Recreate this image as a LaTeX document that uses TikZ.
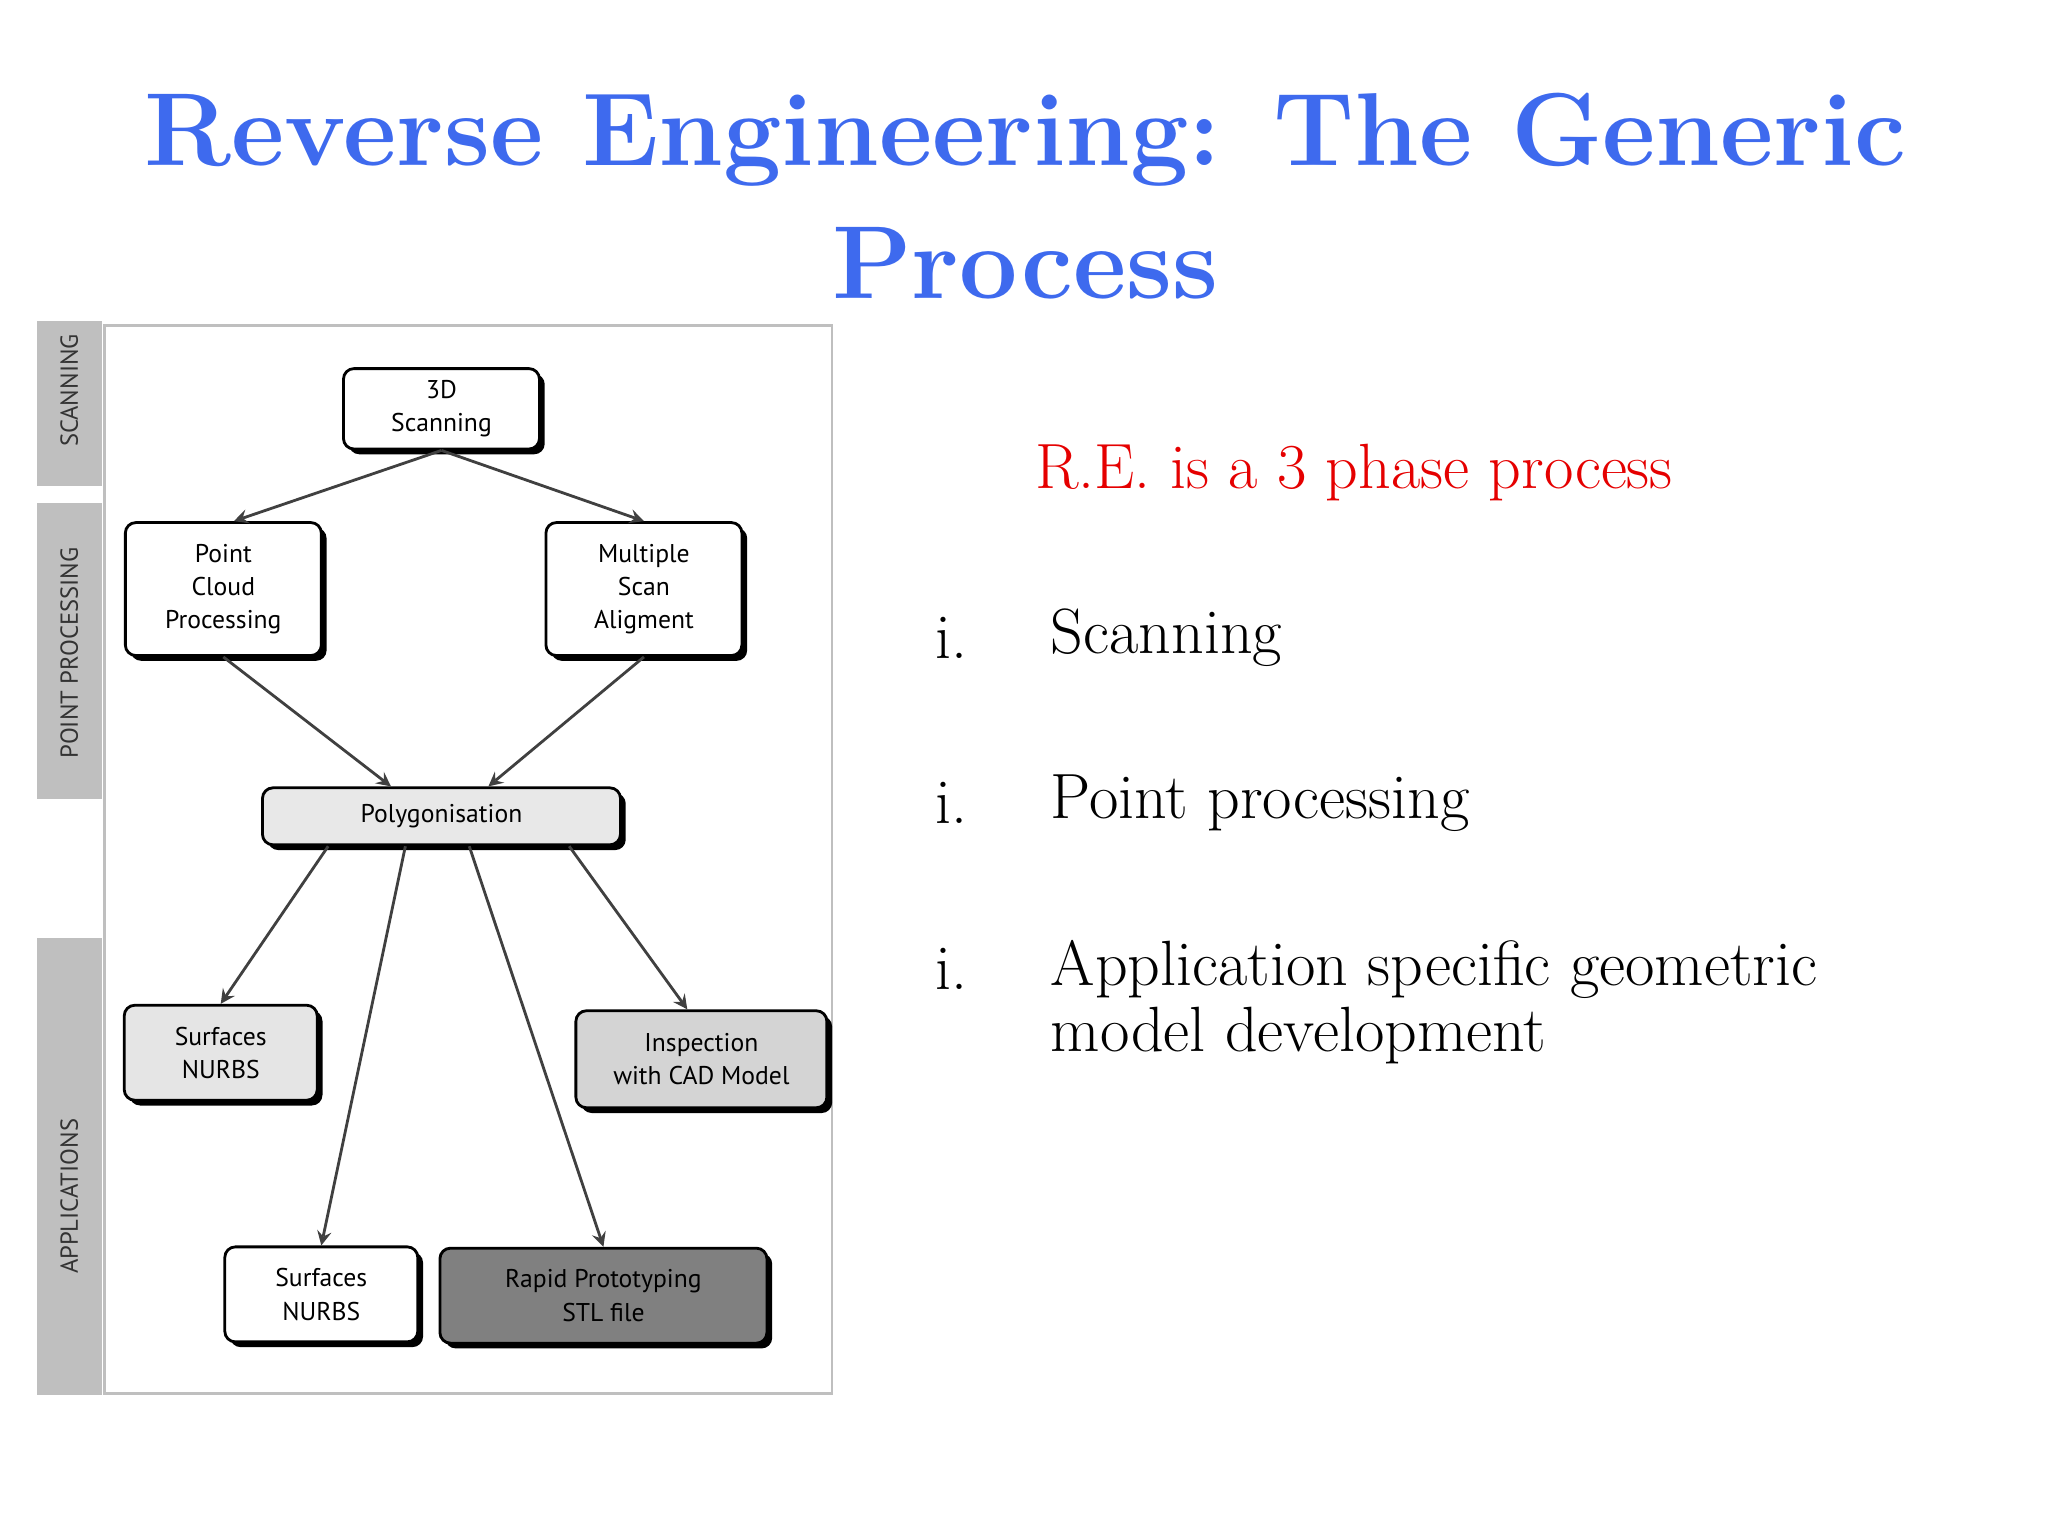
\documentclass[tikz,border=0pt]{standalone}
\usepackage{fontspec}
\setsansfont{PT Sans}
\usetikzlibrary{positioning, calc, shadows}
\tikzset{>=stealth}
\definecolor{titleblue}{RGB}{62,106,238}
\tikzset{
  stage/.style={draw, thick, rounded corners=3pt, align=center, font=\sffamily\fontsize{7.3}{9.5}\selectfont,
    drop shadow={shadow xshift=1.5pt, shadow yshift=-1.5pt, fill=black, opacity=1}, fill=white},
  flow/.style={->, thick, draw=black!75},
  phase/.style={fill=black!25, draw=none},
  phaselabel/.style={rotate=90, font=\sffamily\fontsize{7}{8}\selectfont, text=black!80},
  body/.style={anchor=west, font=\fontsize{18.2}{21}\selectfont}
}
\begin{document}
\begin{tikzpicture}[x=0.01306cm, y=-0.01306cm]
\useasboundingbox (0,0) rectangle (1568,1176);

% title
\node[font=\bfseries\fontsize{29.5}{38}\selectfont, text=titleblue, align=center] (title) at (785,150) {Reverse Engineering: The Generic\\Process};

% phase bars and frame
\fill[phase] (28,246) rectangle (78,372);
\fill[phase] (28,385) rectangle (78,612);
\fill[phase] (28,718) rectangle (78,1068);
\draw[black!25, thick] (80,249) rectangle (637,1067);
\node[phaselabel] (lscan) at (53,299) {SCANNING};
\node[phaselabel] (lpoint) at (53,500) {POINT PROCESSING};
\node[phaselabel] (lapp) at (53,916) {APPLICATIONS};

% stages
\node[stage, minimum width=1.96cm, minimum height=0.76cm] (scan) at (338,313) {3D\\Scanning};
\node[stage, minimum width=1.96cm, minimum height=1.33cm] (cloud) at (171,451) {Point\\Cloud\\Processing};
\node[stage, minimum width=1.96cm, minimum height=1.33cm] (align) at (493,451) {Multiple\\Scan\\Aligment};
\node[stage, fill=black!9, minimum width=3.58cm, minimum height=0.57cm] (poly) at (338,625) {Polygonisation};
\node[stage, fill=black!10, minimum width=1.93cm, minimum height=0.95cm] (surfa) at (169,806) {Surfaces\\NURBS};
\node[stage, fill=black!17, minimum width=2.51cm, minimum height=0.97cm] (inspect) at (537,811) {Inspection\\with CAD Model};
\node[stage, minimum width=1.93cm, minimum height=0.95cm] (surfb) at (246,991) {Surfaces\\NURBS};
\node[stage, fill=black!50, minimum width=3.27cm, minimum height=0.95cm] (proto) at (462,992) {Rapid Prototyping\\STL file};

% connectors
\draw[flow] (scan.south) -- ([xshift=3pt]cloud.north);
\draw[flow] (scan.south) -- (align.north);
\draw[flow] (cloud.south) -- ($(poly.north west)!0.36!(poly.north east)$);
\draw[flow] (align.south) -- ($(poly.north west)!0.63!(poly.north east)$);
\draw[flow] ($(poly.south west)!0.186!(poly.south east)$) -- (surfa.north);
\draw[flow] ($(poly.south west)!0.40!(poly.south east)$) -- (surfb.north);
\draw[flow] ($(poly.south west)!0.577!(poly.south east)$) -- (proto.north);
\draw[flow] ($(poly.south west)!0.854!(poly.south east)$) -- ([xshift=-4pt]inspect.north);

% phases text
\node[body, text=red!90!black] (intro) at (783,362) {R.E. is a 3 phase process};
\foreach \y/\txt [count=\i] in {488/Scanning, 615/Point processing, 742/Application specific geometric} {
  \node[body] (num\i) at (707,\y) {i.};
  \node[body] (item\i) at (795,\y) {\txt};
}
\node[body] (item4) at (795,793) {model development};
\end{tikzpicture}
\end{document}
